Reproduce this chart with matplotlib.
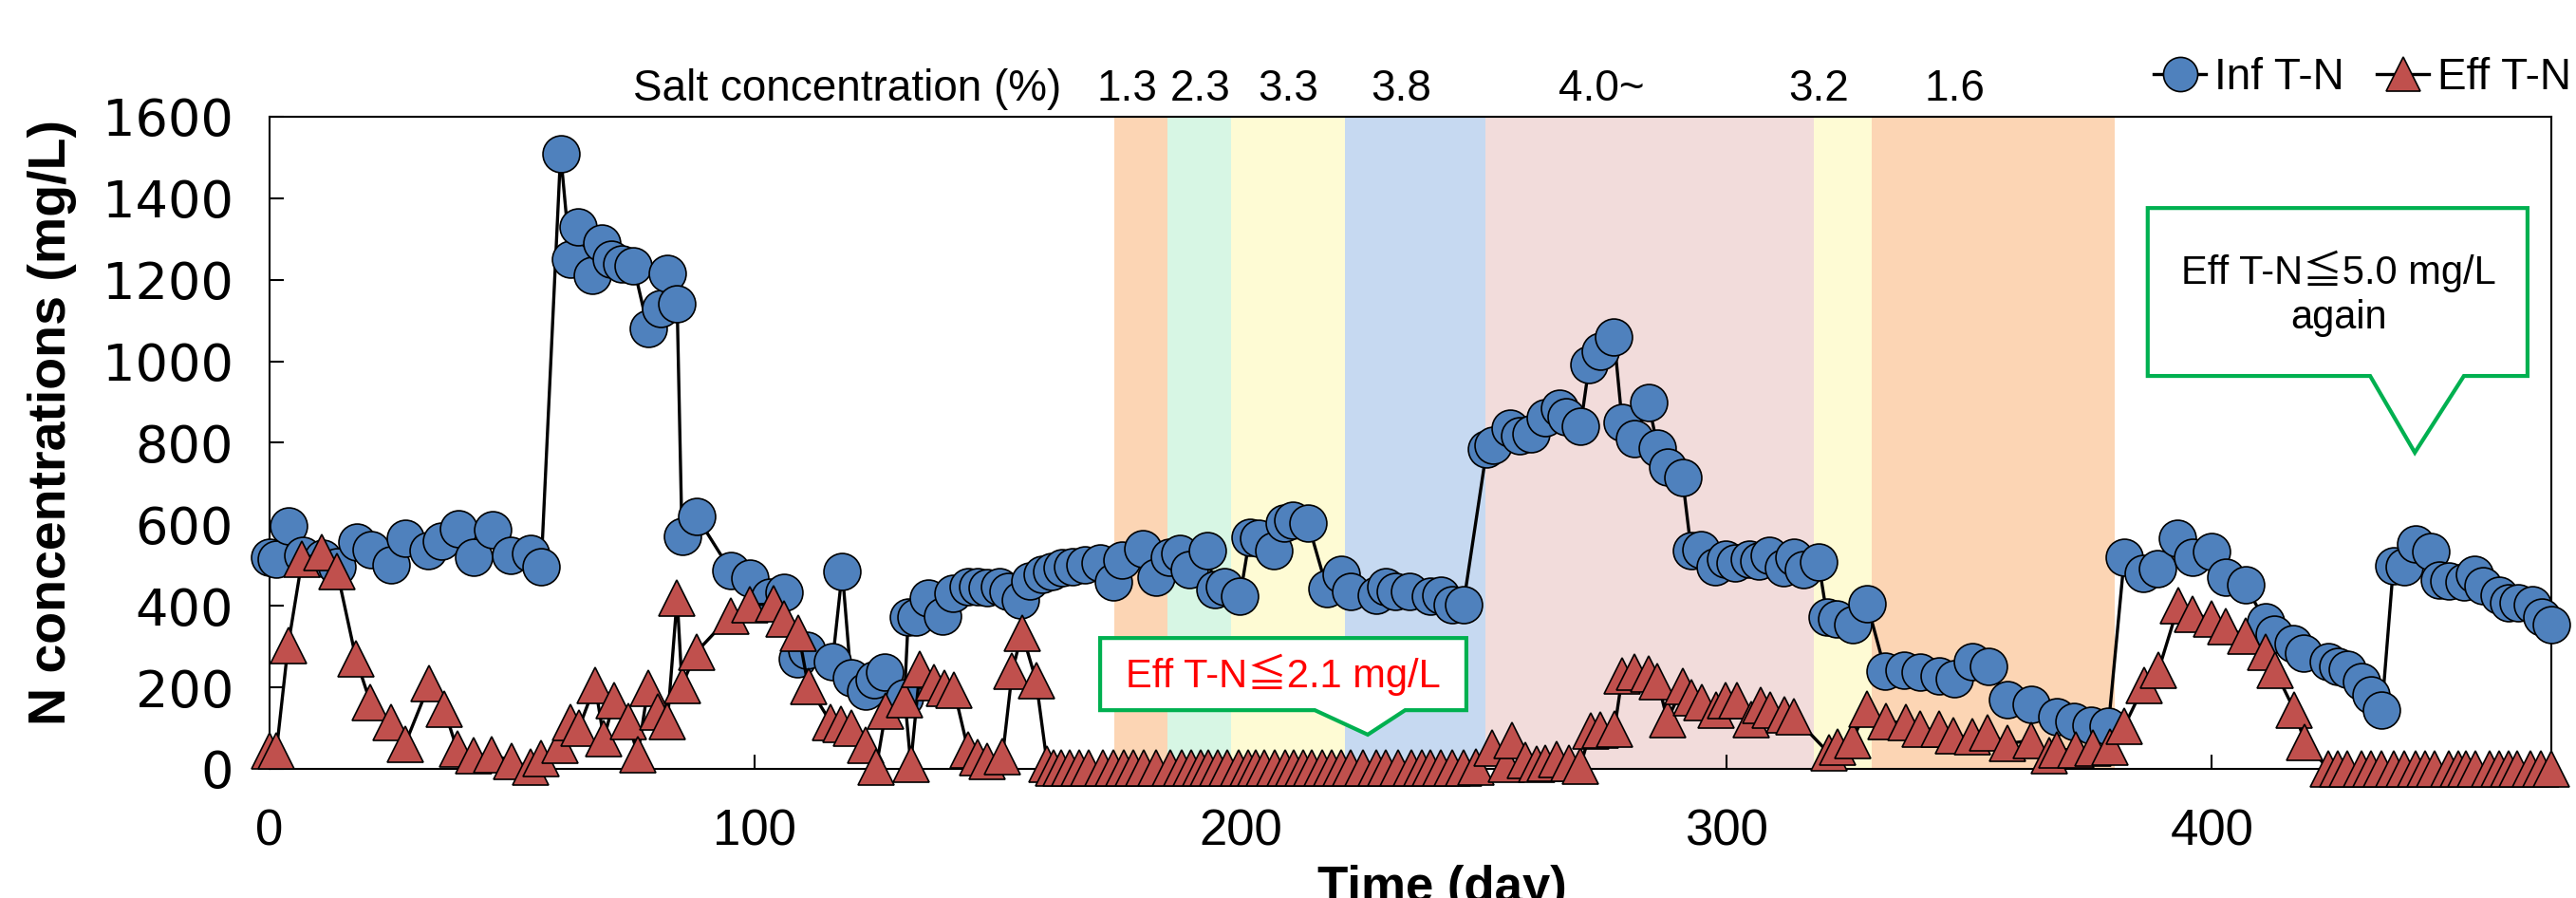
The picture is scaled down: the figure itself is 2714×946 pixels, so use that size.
import matplotlib
matplotlib.use("Agg")
import matplotlib.pyplot as plt
from matplotlib.patches import Polygon
from matplotlib.lines import Line2D

plt.rcParams["font.family"] = ["Liberation Sans", "DejaVu Sans"]

# Influent T-N (mg/L)
inf_day = [0, 1.5, 4, 7, 11, 14, 18, 21, 25, 28, 32.7, 35.5, 39, 42, 46, 49.8, 53.9, 56,
           60, 62, 63.5, 66.5, 68.5, 70.5, 72.5, 75, 78, 80.5, 82, 84, 85, 88,
           95, 99, 103, 106, 108.8, 110.7, 116, 118, 119.8, 122.8, 124.5, 126.8, 130.8,
           131.6, 133.2, 135.8, 138.7, 140.7, 143.9, 145.9, 147.8, 150.4, 152.1, 154.7,
           156.6, 159.2, 161.2, 163.2, 165.4, 168, 171, 173.9, 175.5, 179.8, 182.7, 185.3,
           187.5, 189.5, 193.1, 194.7, 196.7, 199.9, 201.9, 203.8, 206.8, 209, 210.7, 213.9,
           217.8, 220.8, 222.7, 227.9, 229.9, 231.8, 234.8, 239, 241.3, 243.6, 245.9,
           250.7, 252, 255.5, 257.5, 259.9, 262.8, 265.7, 267, 270, 271.8, 274, 276.9,
           278.6, 281.1, 284, 285.9, 287.9, 291, 292.8, 294.7, 297.8, 299.9, 301.9, 304.8,
           306.8, 308.8, 311.8, 313.9, 315.9, 319, 320.8, 322.7, 326, 329, 332.8, 336.7,
           340, 343.9, 347, 350.7, 354, 357.9, 362.9, 368, 371.6, 375.2, 378.7,
           382, 385.9, 388.8, 393, 396, 399.9, 402.8, 406.9, 411, 412.9, 416.8, 418.8,
           424, 426, 427.9, 430.9, 432.8, 435, 437.4, 439.6, 441.9, 445, 446.8, 448.8,
           452, 454, 455.9, 459.2, 461.1, 463.1, 466, 468, 469.9]
inf_tn = [520, 515, 596, 524, 516, 495, 557, 537, 501, 567, 536, 559, 590, 519, 586, 524, 528, 495,
          1510, 1250, 1330, 1210, 1290, 1250, 1240, 1235, 1080, 1130, 1215, 1140, 570, 620,
          487, 468, 422, 432, 270, 292, 264, 485, 223, 190, 219, 238, 175,
          373, 373, 419, 376, 431, 446, 446, 444, 446, 435, 415,
          462, 477, 485, 493, 497, 501, 505, 458, 512, 540, 470, 520,
          528, 489, 536, 441, 446, 423, 568, 567, 536, 602, 609, 603,
          442, 477, 435, 427, 446, 435, 435, 423, 427, 404, 404,
          784, 795, 836, 818, 823, 862, 885, 865, 840, 991, 1025, 1060,
          849, 811, 899, 788, 741, 714, 536, 537, 497, 514, 506, 514,
          511, 524, 493, 519, 488, 508, 373, 369, 353, 406, 239, 241,
          237, 229, 221, 264, 252, 171, 159, 128, 116, 106, 105,
          520, 480, 491, 567, 520, 534, 470, 452, 361, 330, 307, 283,
          264, 252, 245, 214, 182, 144, 499, 497, 553, 534, 464, 460,
          458, 477, 450, 427, 408, 408, 404, 373, 353]

# Effluent T-N (mg/L)
eff_day = [0, 1.5, 3.9, 6.8, 10.9, 14, 17.9, 20.8, 25, 28, 33, 36, 38.7, 42, 45.9, 50, 53.9, 56,
           59.9, 62, 63.8, 67.1, 68.9, 71, 73.9, 75.9, 78, 80, 82, 84, 85, 88,
           95, 99, 103.9, 106, 109, 111, 115.6, 117.7, 119.8, 122.8, 125, 127, 130.9, 132.1,
           134, 136.9, 139, 141, 143.9, 145.9, 147.8, 151, 153, 155, 157.9, 160.2,
           161.5, 163.1, 164.8, 166.7, 168.7, 171.6, 173.9, 175.9, 178, 180.1, 182.7, 185.6,
           187.9, 189.8, 191.8, 193.4, 195.4, 197.3, 199.6, 201.6, 203.2, 204.8, 207.1, 209.1,
           211, 213, 214.6, 216.9, 218.8, 220.8, 222.7, 225.3, 227.9, 229.9, 232.5, 235.1,
           237.4, 239, 241.3, 243.6, 245.9,
           248.5, 251.8, 254.7, 255.9, 258.7, 261, 262.7, 265.1, 267.7, 270, 272.1, 274, 277,
           278.6, 281.1, 284, 285.9, 287.9, 291.1, 292.8, 295, 298, 299.9, 302.2, 305.1,
           307.1, 309, 312, 314, 321.1, 323, 326, 328.9, 333, 337, 340, 343.9, 346.8,
           350.7, 353.9, 357.9, 362.9, 366.5, 368, 371.9, 375.5, 379,
           382, 386.1, 389, 393.1, 396, 399.9, 402.8, 406.9, 411, 413, 417, 419.1,
           424, 426, 427.9, 430.9, 432.8, 435, 437.4, 439.6, 441.9, 443.9, 445.8, 448.8,
           450.7, 452.4, 454.3, 457.2, 459.2, 461.1, 462.8, 465.7, 467.7, 470]
eff_tn = [45, 45, 303, 515, 530, 484, 269, 164, 113, 61, 209, 147, 48, 33, 35, 19, 4, 25,
          58, 113, 101, 206, 74, 167, 116, 35, 198, 140, 116, 419, 206, 287,
          376, 402, 405, 368, 332, 203, 115, 109, 101, 58, 4, 143, 170, 12,
          245, 211, 198, 194, 47, 27, 19, 31, 239, 334, 217, 12,
          3, 3, 3, 3, 3, 3, 3, 3, 3, 3, 3, 3,
          3, 3, 3, 3, 3, 3, 3, 3, 3, 3, 3, 3,
          3, 3, 3, 3, 3, 3, 3, 3, 3, 3, 3, 3,
          3, 3, 3, 3, 3,
          5, 51, 12, 70, 20, 12, 14, 23, 15, 8, 93, 95, 97,
          227, 237, 233, 214, 120, 202, 175, 163, 144, 167, 167, 120,
          155, 144, 132, 128, 39, 54, 70, 147, 116, 113, 97, 97, 82,
          78, 89, 62, 70, 32, 47, 47, 50, 54,
          105, 206, 241, 400, 380, 369, 349, 326, 287, 241, 144, 66,
          0, 0, 0, 0, 0, 0, 0, 0, 0, 0, 0, 0,
          0, 0, 0, 0, 0, 0, 0, 0, 0, 0]

# salt concentration periods (day start, day end, colour)
band_start = [174, 185, 198, 221.5, 250.5, 318, 330]
band_end = [185, 198, 221.5, 250.5, 318, 330, 380]
band_color = ["#FCD5B4", "#D7F6E4", "#FEFBD4", "#C6D9F1", "#F2DCDB", "#FEFBD4", "#FCD5B4"]
salt_label = ["1.3", "2.3", "3.3", "3.8", "4.0~", "3.2", "1.6"]
salt_label_day = [176.6, 191.8, 209.8, 233.1, 274.3, 319.1, 347.0]

fig = plt.figure(figsize=(27.14, 9.46), dpi=100)
ax = fig.add_axes([0.1045, 0.1438, 0.8861, 0.7262])

for s, e, c in zip(band_start, band_end, band_color):
    ax.axvspan(s, e, color=c, lw=0, zorder=0)

ax.plot(inf_day, inf_tn, color="black", lw=2.4, marker="o", ms=28,
        mfc="#4F81BD", mec="black", mew=1.2, clip_on=False, zorder=3)
ax.plot(eff_day, eff_tn, color="black", lw=2.4, marker="^", ms=28,
        mfc="#C0504D", mec="black", mew=1.2, clip_on=False, zorder=4)

ax.set_xlim(0, 470)
ax.set_ylim(0, 1600)
ax.set_xticks([0, 100, 200, 300, 400])
ax.set_yticks(range(0, 1601, 200))
ax.tick_params(axis="both", direction="in", length=11, width=1.5)
ax.tick_params(axis="x", pad=30, labelsize=38)
ax.tick_params(axis="y", pad=27, labelsize=39)
for lab in ax.get_yticklabels():
    lab.set_family("DejaVu Sans")
for sp in ax.spines.values():
    sp.set_linewidth(1.5)

ax.set_ylabel("N concentrations (mg/L)", fontsize=40, fontweight="bold")
ax.yaxis.set_label_coords(-0.0842, 0.531)
fig.text(1519 / 2714, -0.004, "Time (day)", fontsize=38, fontweight="bold",
         ha="center", va="baseline")

# salt concentration header
tr = ax.get_xaxis_transform()
ax.text(119.1, 1.042, "Salt concentration (%)", transform=tr, ha="center", va="center",
        fontsize=33)
for d, lab in zip(salt_label_day, salt_label):
    ax.text(d, 1.042, lab, transform=tr, ha="center", va="center", fontsize=33)

# legend
h1 = Line2D([], [], color="black", lw=2.4, marker="o", ms=26, mfc="#4F81BD", mec="black", mew=1.2)
h2 = Line2D([], [], color="black", lw=2.4, marker="^", ms=26, mfc="#C0504D", mec="black", mew=1.2)
fig.legend([h1, h2], ["Inf T-N", "Eff T-N"], loc="center left",
           bbox_to_anchor=(2269 / 2714, 1 - 82 / 946), frameon=False, ncol=2,
           prop={"size": 33}, handlelength=1.2, handletextpad=0.2,
           columnspacing=0.75, borderpad=0, borderaxespad=0)

# callouts
green = "#00B050"
call1 = [(171.1, 321), (246.5, 321), (246.5, 144), (233.9, 144), (226.2, 84),
         (215.3, 144), (171.1, 144)]
call2 = [(386.8, 1376), (465, 1376), (465, 964), (451.9, 964), (441.8, 776),
         (432.6, 964), (386.8, 964)]
for pts in (call1, call2):
    ax.add_patch(Polygon(pts, closed=True, facecolor="white", edgecolor=green,
                         lw=3, zorder=6, clip_on=False))
ax.text(208.8, 232, "Eff T-N≦2.1 mg/L", color="red", fontsize=30, ha="center", va="center",
        family=["Liberation Sans", "Noto Sans CJK JP"], zorder=7)
ax.text(426.1, 1166, "Eff T-N≦5.0 mg/L\nagain", color="black", fontsize=30, ha="center",
        va="center", linespacing=1.25, family=["Liberation Sans", "Noto Sans CJK JP"], zorder=7)

fig.savefig("out.png", dpi=100)
